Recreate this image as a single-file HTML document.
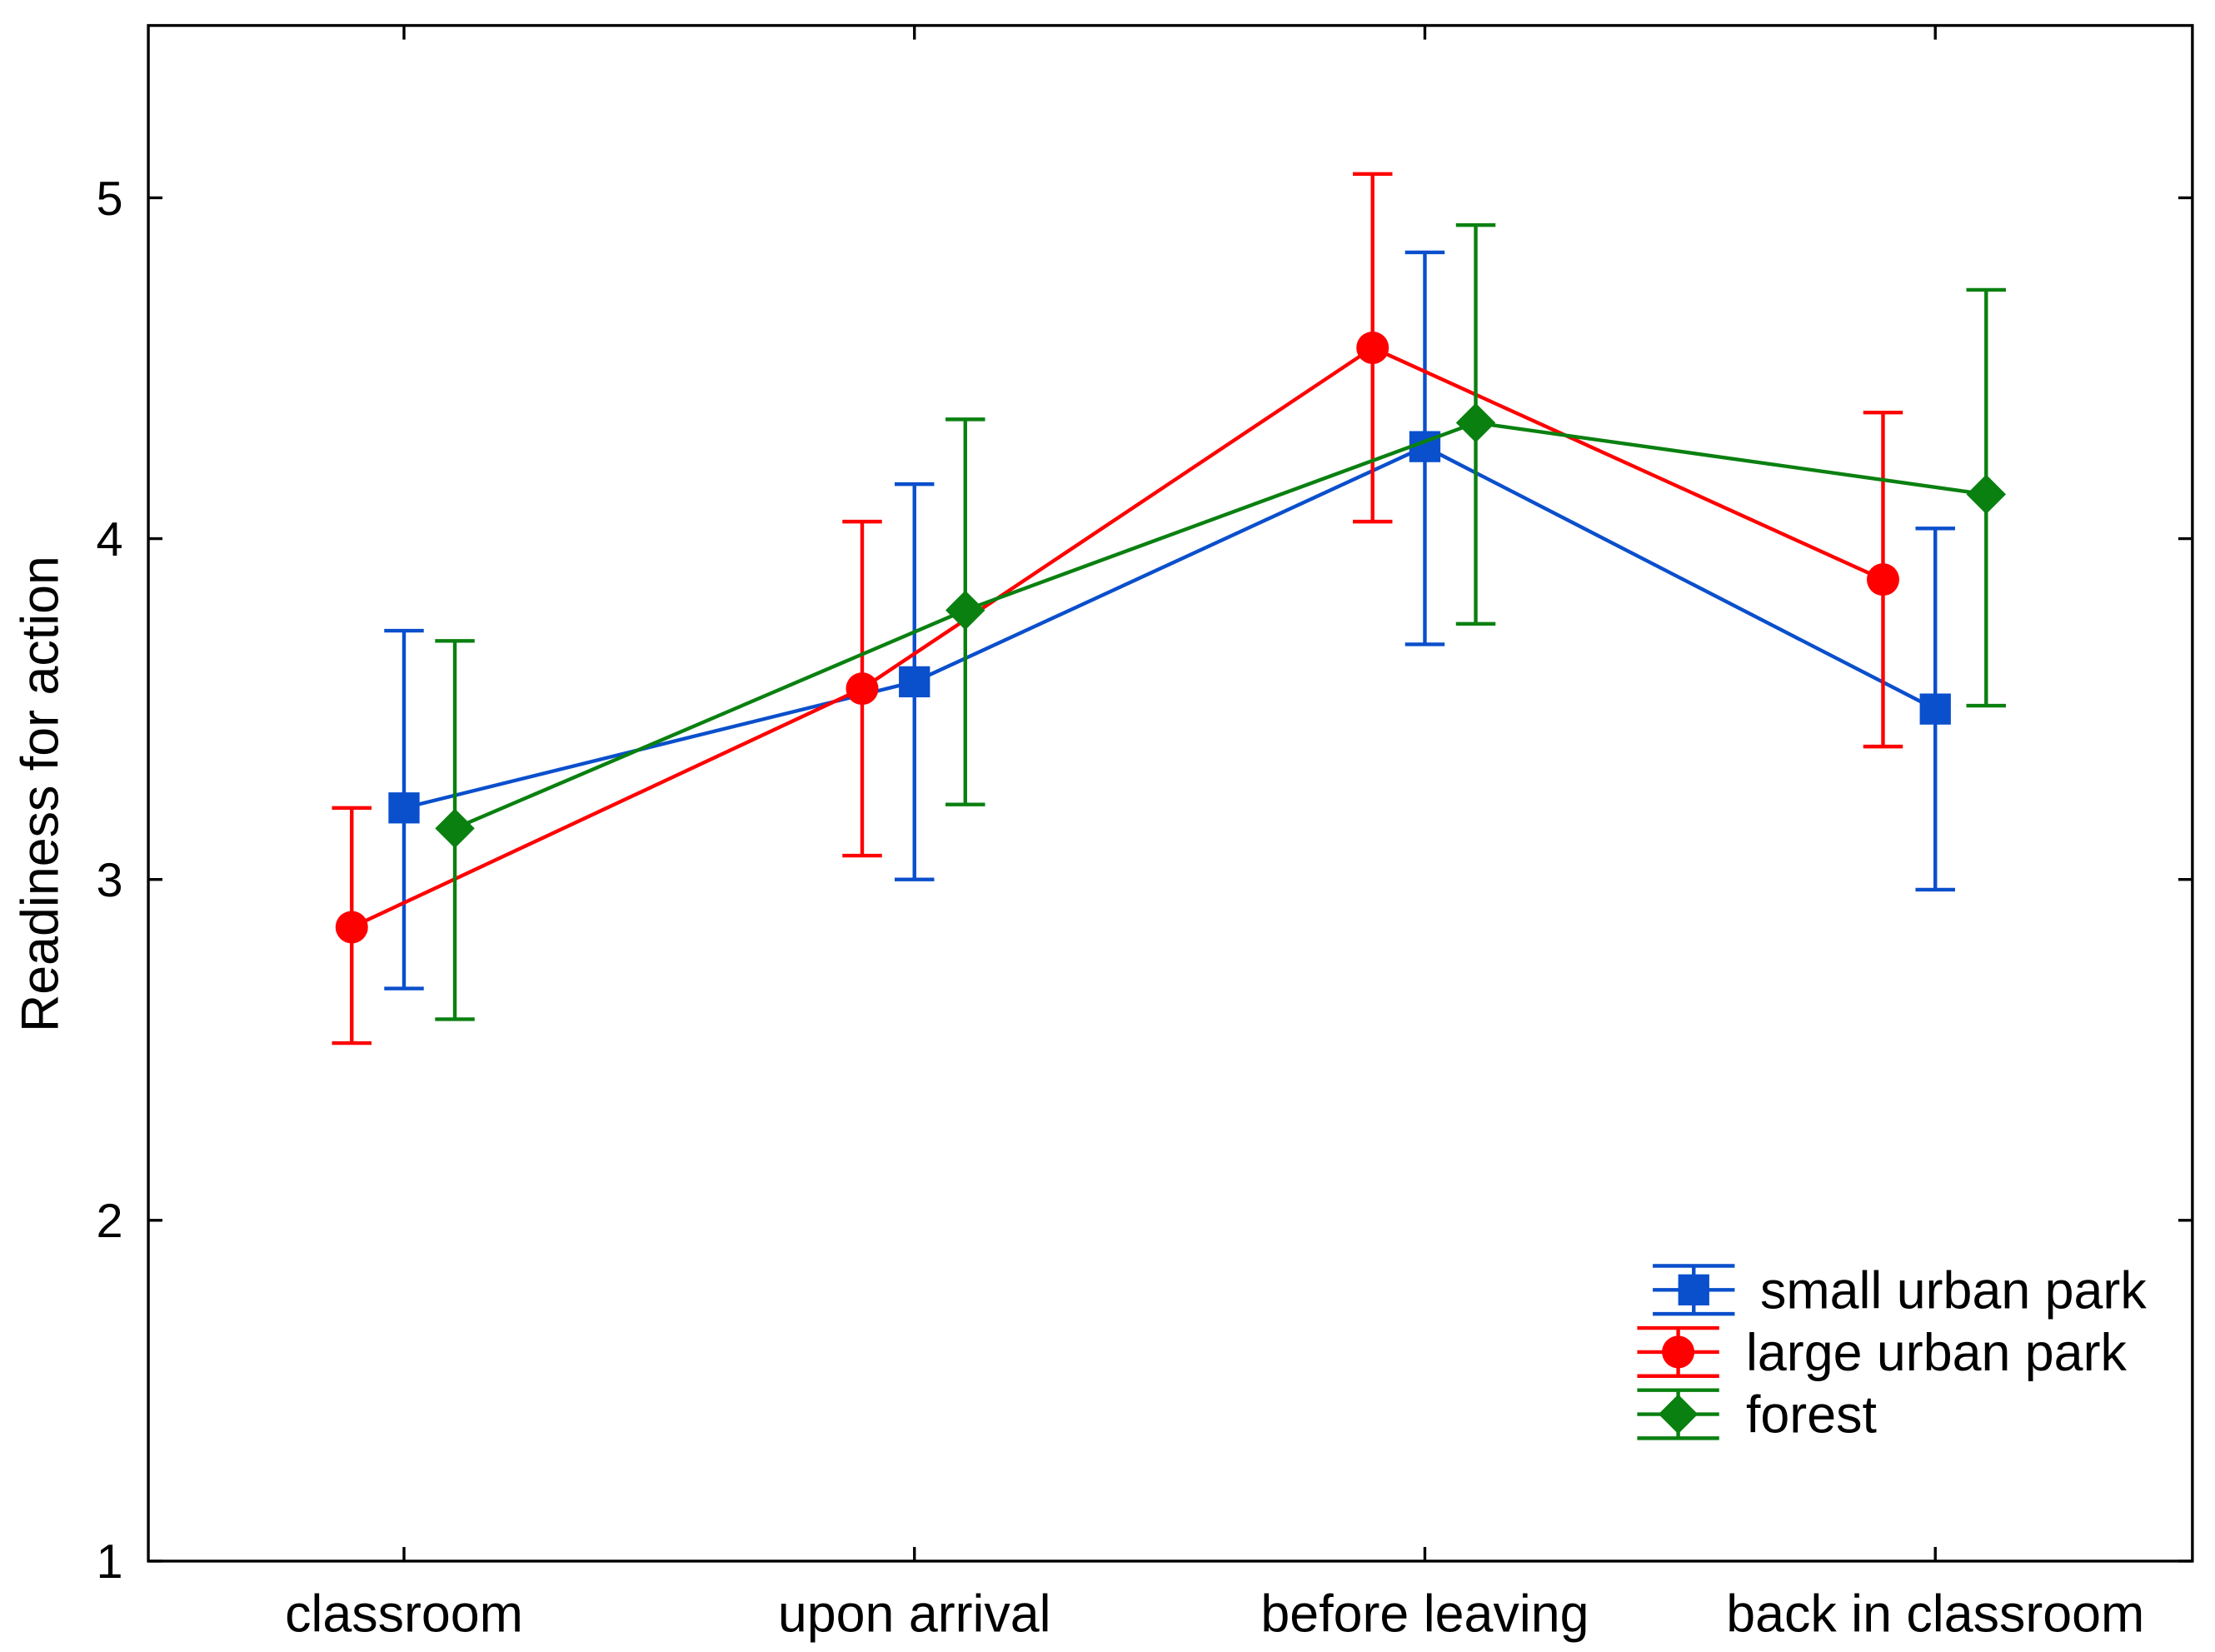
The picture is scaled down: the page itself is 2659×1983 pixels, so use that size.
<!DOCTYPE html>
<html><head><meta charset="utf-8"><style>
html,body{margin:0;padding:0;background:#fff}
svg{display:block}
text{font-family:"Liberation Sans",Arial,sans-serif;fill:#000}
</style></head><body>
<svg id="chart" width="2659" height="1983" viewBox="0 0 1568 1169.3" xmlns="http://www.w3.org/2000/svg">
<g id="axes"></g>
<g id="series"></g>
<g id="legend"></g>
</svg>
<script>
const categories = ["classroom","upon arrival","before leaving","back in classroom"];
const yTicks = [1,2,3,4,5];
const seriesNames = ["small urban park","large urban park","forest"];
const smallMean = [3.21,3.58,4.27,3.50];
const smallLow = [2.68,3.00,3.69,2.97];
const smallHigh = [3.73,4.16,4.84,4.03];
const largeMean = [2.86,3.56,4.56,3.88];
const largeLow = [2.52,3.07,4.05,3.39];
const largeHigh = [3.21,4.05,5.07,4.37];
const forestMean = [3.15,3.79,4.34,4.13];
const forestLow = [2.59,3.22,3.75,3.51];
const forestHigh = [3.70,4.35,4.92,4.73];

const NS="http://www.w3.org/2000/svg";
const L=105,R=1552,T=18,B=1105;
const y=v=>B-(v-1)*(B-140)/4;
const x=i=>286+i*(1370-286)/3;
function mk(tag,attrs,parent){const e=document.createElementNS(NS,tag);for(const k in attrs)e.setAttribute(k,attrs[k]);parent.appendChild(e);return e;}
const axes=document.getElementById('axes'),ser=document.getElementById('series'),leg=document.getElementById('legend');
let f=mk('rect',{x:L,y:T,width:R-L,height:B-T,fill:'none',stroke:'#000','stroke-width':2},axes);


yTicks.forEach(v=>{
 let t=mk('line',{x1:L,x2:L+10,y1:y(v),y2:y(v),stroke:'#000','stroke-width':2},axes);
 
 
 let t2=mk('line',{x1:R-10,x2:R,y1:y(v),y2:y(v),stroke:'#000','stroke-width':2},axes);
 
 
 let l=mk('text',{x:L-18,y:y(v)+12,'text-anchor':'end','font-size':34},axes);l.textContent=v;
 
 
});
categories.forEach((c,i)=>{
 let t=mk('line',{x1:x(i),x2:x(i),y1:B,y2:B-10,stroke:'#000','stroke-width':2},axes);
 
 
 let t2=mk('line',{x1:x(i),x2:x(i),y1:T,y2:T+10,stroke:'#000','stroke-width':2},axes);
 
 
 let l=mk('text',{x:x(i),y:1155,'text-anchor':'middle','font-size':37},axes);l.textContent=c;
 
 
});
let yt=mk('text',{x:0,y:0,'text-anchor':'middle','font-size':37,transform:`translate(41,562) rotate(-90)`},axes);
yt.textContent='Readiness for action';



function marker(shape,cx,cy,color,parent){
 let m;
 if(shape==='square')m=mk('rect',{x:cx-11,y:cy-11,width:22,height:22,fill:color},parent);
 else if(shape==='circle')m=mk('circle',{cx:cx,cy:cy,r:11.5,fill:color},parent);
 else m=mk('polygon',{points:`${cx},${cy-14} ${cx+14},${cy} ${cx},${cy+14} ${cx-14},${cy}`,fill:color},parent);
 return m;
}
const S=[
 {name:seriesNames[0],mean:smallMean,lo:smallLow,hi:smallHigh,color:'#0a4fcc',off:0,shape:'square',key:'small'},
 {name:seriesNames[1],mean:largeMean,lo:largeLow,hi:largeHigh,color:'#ff0000',off:-37,shape:'circle',key:'large'},
 {name:seriesNames[2],mean:forestMean,lo:forestLow,hi:forestHigh,color:'#0a8010',off:36,shape:'diamond',key:'forest'}
];
S.forEach(s=>{
 const g=mk('g',{},ser);
 
 
 const pts=s.mean.map((v,i)=>`${x(i)+s.off},${y(v)}`).join(' ');
 const pl=mk('polyline',{points:pts,fill:'none',stroke:s.color,'stroke-width':2.6},g);
 
 
 s.mean.forEach((v,i)=>{
  const cx=x(i)+s.off;
  const eb=mk('path',{d:`M${cx},${y(s.lo[i])}V${y(s.hi[i])}M${cx-14},${y(s.lo[i])}H${cx+14}M${cx-14},${y(s.hi[i])}H${cx+14}`,stroke:s.color,'stroke-width':2.6,fill:'none'},g);
  
  
  const m=marker(s.shape,cx,y(v),s.color,g);
  
  
 });
});
const legY=[913,957,1001],legX=[1199,1188,1188],txX=[1246,1236,1236];
S.forEach((s,i)=>{
 const g=mk('g',{},leg);
 
 
 const cx=legX[i],cy=legY[i];
 mk('path',{d:`M${cx-29},${cy}H${cx+29}M${cx-29},${cy-17}H${cx+29}M${cx-29},${cy+17}H${cx+29}M${cx},${cy-17}V${cy+17}`,stroke:s.color,'stroke-width':2.6,fill:'none'},g);
 marker(s.shape,cx,cy,s.color,g);
 const t=mk('text',{x:txX[i],y:cy+13,'font-size':37},g);t.textContent=s.name;
});
</script>
</body></html>
